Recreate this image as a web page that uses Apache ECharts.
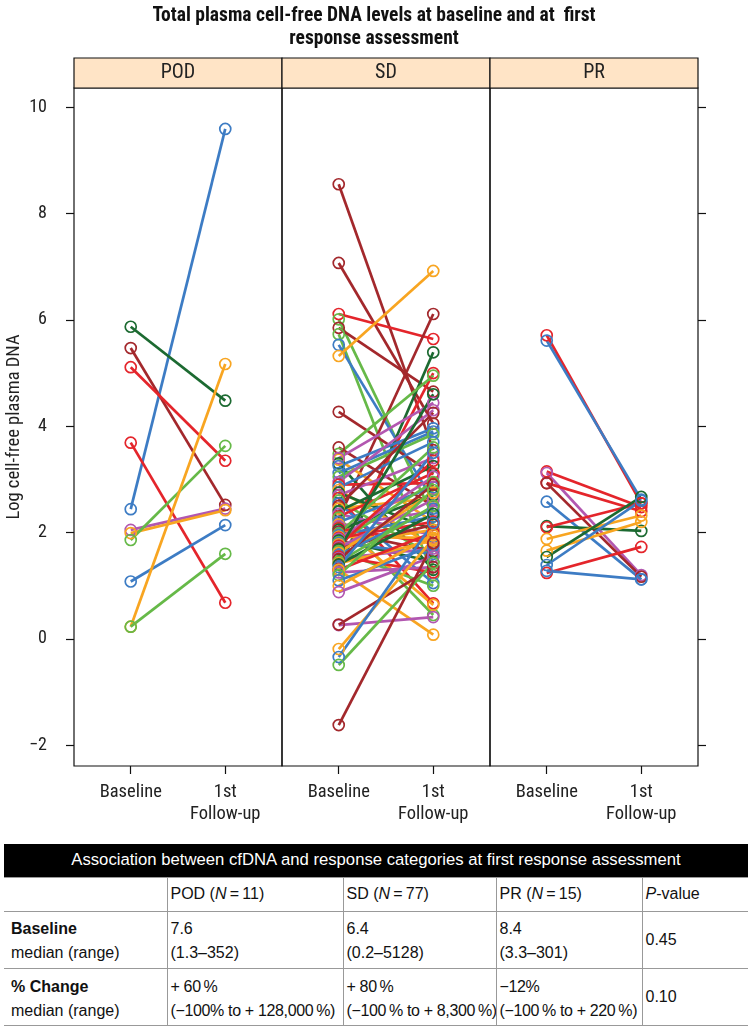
<!DOCTYPE html>
<html>
<head>
<meta charset="utf-8">
<script src="https://cdn.jsdelivr.net/npm/echarts@6/dist/echarts.min.js"></script>
<style>
  html, body { margin:0; padding:0; background:#fff; }
  body { width:748px; height:1026px; position:relative; overflow:hidden; font-family:'Liberation Sans',Arial,sans-serif; }
  #chart { position:absolute; left:0; top:0; width:748px; height:840px; }
  #tbl { position:absolute; left:4px; top:844px; width:744px; border-collapse:collapse; table-layout:fixed;
         font-family:'Liberation Sans',Arial,sans-serif; font-size:16px; color:#111; white-space:nowrap; }
  #tbl td { padding:0 0 0 3px; border-top:1px solid #999; vertical-align:top; line-height:24px; box-sizing:border-box; overflow:hidden; }
  #tbl td + td { border-left:1px solid #999; }
  #tbl td.first { padding-left:7px; }
  #tbl tr.head td { background:#000; color:#fff; text-align:center; height:33px; vertical-align:middle; border:none; padding:0; font-size:16.7px; }
  #tbl tr.cols td { height:34px; vertical-align:middle; }
  #tbl tr.r1 td { height:57px; padding-top:5px; }
  #tbl tr.r2 td { height:57px; padding-top:6px; }
  #tbl tr.r2 td.tight { letter-spacing:-0.35px; }
  #tbl td.mid { vertical-align:middle; padding-top:0 !important; }
  #tbl tr.last td { border-bottom:1px solid #999; }
</style>
</head>
<body>
<div id="chart"></div>
<table id="tbl">
  <colgroup><col style="width:163px"><col style="width:176px"><col style="width:153px"><col style="width:146px"><col></colgroup>
  <tr class="head"><td colspan="5">Association between cfDNA and response categories at first response assessment</td></tr>
  <tr class="cols"><td class="first"></td><td>POD (<i>N</i>&thinsp;=&thinsp;11)</td><td>SD (<i>N</i>&thinsp;=&thinsp;77)</td><td>PR (<i>N</i>&thinsp;=&thinsp;15)</td><td><i>P</i>-value</td></tr>
  <tr class="r1"><td class="first"><b>Baseline</b><br>median (range)</td><td>7.6<br>(1.3–352)</td><td>6.4<br>(0.2–5128)</td><td>8.4<br>(3.3–301)</td><td class="mid">0.45</td></tr>
  <tr class="r2 last"><td class="first"><b>% Change</b><br>median (range)</td><td class="tight">+ 60&thinsp;%<br>(−100% to + 128,000&thinsp;%)</td><td class="tight">+ 80&thinsp;%<br>(−100&thinsp;% to + 8,300&thinsp;%)</td><td class="tight">−12%<br>(−100&thinsp;% to + 220&thinsp;%)</td><td class="mid">0.10</td></tr>
</table>
<script>
// ---------- data ----------
var panels = ['POD', 'SD', 'PR'];
var xLabels = ['Baseline', '1st\nFollow-up'];
var yTicks = [-2, 0, 2, 4, 6, 8, 10];
var palette = ['#3d7cc4', '#e4252b', '#66b948', '#1c6a31', '#a3282c', '#b257b0', '#f8a521'];

var podColor  = [0, 3, 4, 1, 1, 5, 6, 2, 0, 6, 2];
var podBase   = [2.44, 5.87, 5.47, 5.11, 3.69, 2.05, 1.99, 1.86, 1.08, 0.23, 0.23];
var podFollow = [9.59, 4.48, 2.52, 3.35, 0.68, 2.45, 2.42, 3.63, 2.14, 5.17, 1.60];

var sdColor  = [4,4,1,2,4,2,0,6,4,4, 3,1,2,6,3,0,4,5,0,2, 5,1,0,6,3,5,1,2,0,4,
                6,3,5,1,2,0,6,5,1,3, 4,2,0,6,1,5,3,2,0,6, 1,5,4,3,2,6,0,1,5,4,
                2,6,3,0,1,5,6,2,0,6, 5,5,4,6,0,2,4];
var sdBase   = [8.55,7.07,6.11,6.01,5.85,5.73,5.53,5.32,4.27,2.26,
                1.30,1.60,3.48,3.37,3.30,3.12,3.60,3.40,3.25,3.05,
                2.95,2.90,2.85,2.80,2.75,2.70,2.65,2.60,2.55,2.50,
                2.45,2.40,2.35,2.30,2.28,2.20,2.15,2.12,2.08,2.05,
                2.02,1.98,1.95,1.92,1.90,1.88,1.85,1.82,1.80,1.78,
                1.75,1.72,1.70,1.68,1.65,1.62,1.58,1.55,1.52,1.50,
                1.45,1.42,1.40,1.35,1.30,1.25,1.30,1.20,1.10,1.00,
                0.88,0.26,0.27,-0.19,-0.34,-0.49,-1.62];
var sdFollow = [3.55,4.05,5.64,2.30,4.65,1.20,2.60,6.92,3.10,6.11,
                5.39,5.00,4.95,2.20,1.30,3.90,2.50,4.44,3.96,3.85,
                4.30,2.93,3.70,1.75,2.05,3.40,0.67,1.55,1.05,4.25,
                2.65,3.25,1.95,3.12,0.45,2.85,0.64,2.40,1.80,2.70,
                1.65,3.60,2.30,1.90,2.20,3.05,1.45,2.95,1.60,2.05,
                3.35,2.62,2.15,4.60,1.00,2.75,2.45,1.25,1.70,2.90,
                2.50,1.85,2.35,3.50,2.00,1.35,0.08,2.80,1.75,1.95,
                1.55,0.41,1.35,1.88,2.18,1.43,1.80];

var prColor  = [1, 0, 1, 5, 1, 4, 0, 3, 1, 6, 6, 3, 0, 1, 0];
var prBase   = [5.71, 5.61, 3.15, 3.12, 2.93, 2.93, 2.58, 2.12, 2.10, 1.88, 1.66, 1.54, 1.39, 1.24, 1.28];
var prFollow = [2.55, 2.62, 2.48, 1.20, 2.40, 1.17, 1.12, 2.03, 2.55, 2.32, 2.20, 2.67, 2.60, 1.73, 1.12];

// ---------- layout ----------
var FONT = "'Roboto Condensed','Liberation Sans Narrow','Liberation Sans',sans-serif";
var L0 = 74, PW = 208, STRIP_TOP = 58, STRIP_H = 30, PLOT_BOTTOM = 766;
var YMIN = -2.39, YMAX = 10.36;

var groups = [
  {c: podColor, b: podBase, f: podFollow},
  {c: sdColor, b: sdBase, f: sdFollow},
  {c: prColor, b: prBase, f: prFollow}
];

var grids = [], xAxes = [], yAxes = [], series = [], graphics = [];
panels.forEach(function (name, p) {
  grids.push({left: L0 + p * PW, top: STRIP_TOP + STRIP_H, width: PW,
              height: PLOT_BOTTOM - STRIP_TOP - STRIP_H, show: true,
              borderColor: '#111', borderWidth: 1.2, backgroundColor: 'transparent'});
  xAxes.push({type: 'value', gridIndex: p, min: -0.6, max: 1.6, position: 'bottom',
    axisLine: {show: false, onZero: false}, splitLine: {show: false},
    axisTick: {show: true, customValues: [0, 1], length: 8, lineStyle: {color: '#111', width: 1.2}},
    axisLabel: {show: true, customValues: [0, 1], margin: 15, color: '#222',
      fontFamily: FONT, fontSize: 18.5, lineHeight: 22,
      formatter: function (v) { return xLabels[Math.round(v)]; }}
  });
  var yA = {type: 'value', gridIndex: p, min: YMIN, max: YMAX,
    position: p === 2 ? 'right' : 'left',
    axisLine: {show: false, onZero: false}, splitLine: {show: false},
    axisTick: {show: p !== 1, customValues: yTicks, length: 8, lineStyle: {color: '#111', width: 1.2}},
    axisLabel: {show: p === 0, customValues: yTicks, margin: 27, color: '#222',
      fontFamily: FONT, fontSize: 18,
      formatter: function (v) { return v < 0 ? '\u2212' + Math.abs(v) : String(v); }}
  };
  if (p === 0) {
    yA.name = 'Log cell-free plasma DNA';
    yA.nameLocation = 'middle';
    yA.nameGap = 50;
    yA.nameRotate = 90;
    yA.nameTextStyle = {fontFamily: FONT, fontSize: 18.5, color: '#222'};
  }
  yAxes.push(yA);

  var g = groups[p];
  for (var i = 0; i < g.b.length; i++) {
    var col = palette[g.c[i]];
    series.push({type: 'line', xAxisIndex: p, yAxisIndex: p,
      data: [[0, g.b[i]], [1, g.f[i]]],
      symbol: 'circle', symbolSize: 11, silent: true, animation: false,
      itemStyle: {color: 'rgba(255,255,255,0)', borderColor: col, borderWidth: 1.7},
      lineStyle: {color: col, width: 2.7}
    });
  }

  graphics.push({type: 'rect', shape: {x: L0 + p * PW, y: STRIP_TOP, width: PW, height: STRIP_H},
    style: {fill: '#ffe4c6', stroke: '#111', lineWidth: 1.2}});
  graphics.push({type: 'text', x: L0 + p * PW + PW / 2, y: STRIP_TOP + STRIP_H / 2,
    style: {text: name, fill: '#222', font: '20px ' + FONT, textAlign: 'center', textVerticalAlign: 'middle'}});
});

var chart = echarts.init(document.getElementById('chart'), null, {renderer: 'canvas'});
chart.setOption({
  animation: false,
  title: {text: 'Total plasma cell-free DNA levels at baseline and at  first\nresponse assessment',
    left: 'center', top: 0,
    textStyle: {fontFamily: FONT, fontSize: 19.5, fontWeight: 'bold', color: '#111', lineHeight: 23}},
  grid: grids, xAxis: xAxes, yAxis: yAxes, series: series, graphic: graphics
});
</script>
</body>
</html>
